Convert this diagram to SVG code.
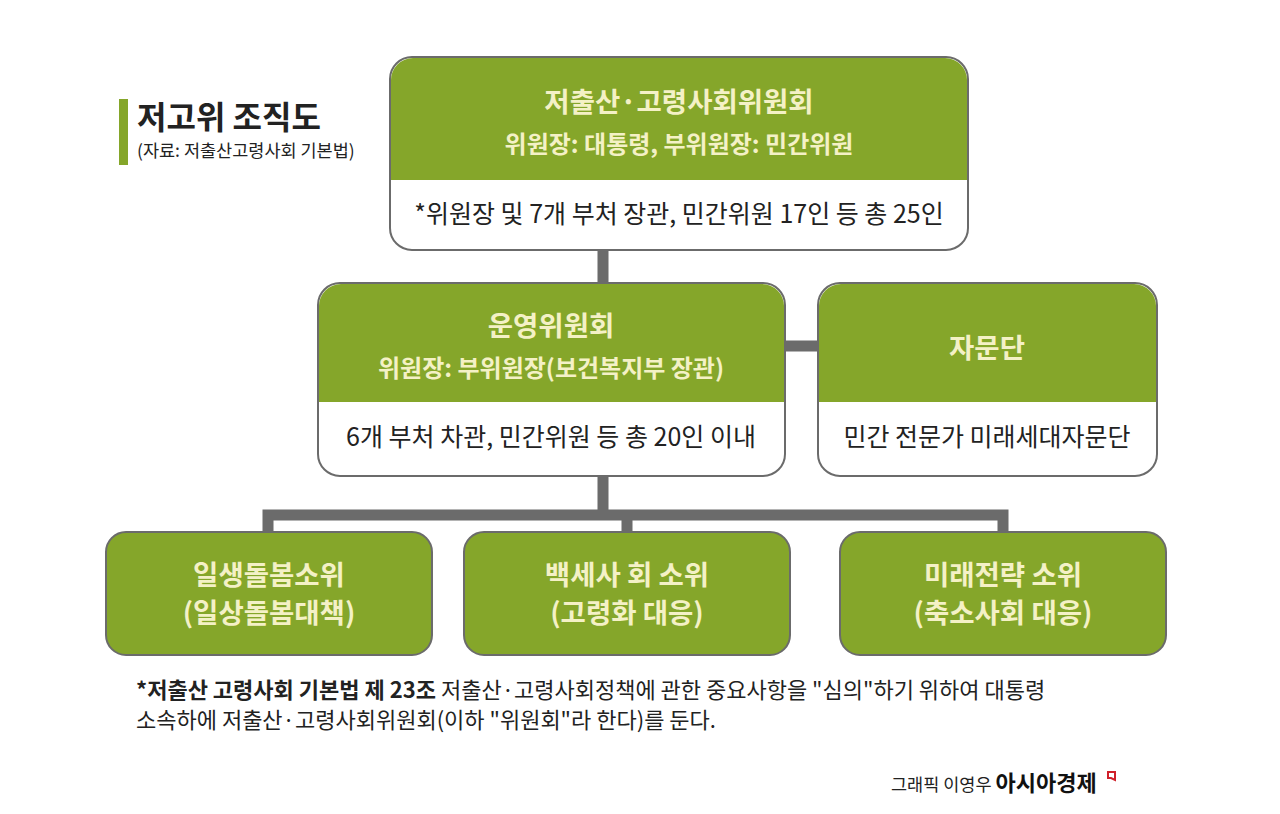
<svg xmlns="http://www.w3.org/2000/svg" width="1280" height="814" viewBox="0 0 1280 814">
<style>
text{font-family:"Noto Sans CJK KR","Noto Sans",sans-serif;}
.box{stroke:#6b6b6b;stroke-width:2;}
.g{fill:#85a62a;}
.w{fill:#fff;}
.t{fill:#f4f1c6;font-weight:bold;text-anchor:middle;}
.b{fill:#222;text-anchor:middle;font-size:25px;}
.c{stroke:#6b6b6b;stroke-width:11;fill:none;}
</style>
<rect width="1280" height="814" fill="#fff"/>
<g id="connectors">
<path class="c" d="M603 250V284M785 346H819M603 476V515M268 532V515H1003V532M627 515V532"/>
</g>
<g id="title">
<rect x="119" y="99" width="9" height="66" fill="#85a62a"/>
<text x="137" y="129" font-size="32" font-weight="bold" fill="#222">저고위 조직도</text>
<text x="137" y="157" font-size="17.5" fill="#222">(자료: 저출산고령사회 기본법)</text>
</g>
<g id="n1">
<rect class="box w" x="390" y="57" width="578" height="193" rx="22"/>
<path class="g" d="M413 58H945A22 22 0 0 1 967 80V180H391V80A22 22 0 0 1 413 58Z"/>
<text class="t" x="679" y="112" font-size="27.5">저출산·고령사회위원회</text>
<text class="t" x="679" y="153" font-size="24">위원장: 대통령, 부위원장: 민간위원</text>
<text class="b" x="679" y="223">*위원장 및 7개 부처 장관, 민간위원 17인 등 총 25인</text>
</g>
<g id="n2">
<rect class="box w" x="318" y="283" width="467" height="193" rx="22"/>
<path class="g" d="M341 284H762A22 22 0 0 1 784 306V402H319V306A22 22 0 0 1 341 284Z"/>
<text class="t" x="551" y="336" font-size="27.5">운영위원회</text>
<text class="t" x="551" y="377" font-size="24">위원장: 부위원장(보건복지부 장관)</text>
<text class="b" x="551" y="446">6개 부처 차관, 민간위원 등 총 20인 이내</text>
</g>
<g id="n3">
<rect class="box w" x="818" y="283" width="339" height="193" rx="22"/>
<path class="g" d="M841 284H1134A22 22 0 0 1 1156 306V402H819V306A22 22 0 0 1 841 284Z"/>
<text class="t" x="987" y="358" font-size="27.5">자문단</text>
<text class="b" x="987" y="446">민간 전문가 미래세대자문단</text>
</g>
<g id="n4">
<rect class="box g" x="106" y="532" width="326" height="123" rx="20"/>
<text class="t" x="269" y="585" font-size="27.5">일생돌봄소위</text>
<text class="t" x="269" y="623" font-size="27.5">(일상돌봄대책)</text>
</g>
<g id="n5">
<rect class="box g" x="464" y="532" width="326" height="123" rx="20"/>
<text class="t" x="627" y="585" font-size="27.5">백세사 회 소위</text>
<text class="t" x="627" y="623" font-size="27.5">(고령화 대응)</text>
</g>
<g id="n6">
<rect class="box g" x="840" y="532" width="326" height="123" rx="20"/>
<text class="t" x="1003" y="585" font-size="27.5">미래전략 소위</text>
<text class="t" x="1003" y="623" font-size="27.5">(축소사회 대응)</text>
</g>
<g id="note" font-size="22" fill="#222">
<text x="136" y="698"><tspan font-weight="bold">*저출산 고령사회 기본법 제 23조</tspan> 저출산·고령사회정책에 관한 중요사항을 "심의"하기 위하여 대통령</text>
<text x="136" y="728">소속하에 저출산·고령사회위원회(이하 "위원회"라 한다)를 둔다.</text>
</g>
<g id="credit">
<text x="891" y="791" font-size="17.5" fill="#222">그래픽 이영우 <tspan font-size="22" font-weight="bold" fill="#111">아시아경제</tspan></text>
<path d="M1108 772h7v8l-4 -2h-3z" fill="none" stroke="#d0202a" stroke-width="2"/>
</g>
</svg>
